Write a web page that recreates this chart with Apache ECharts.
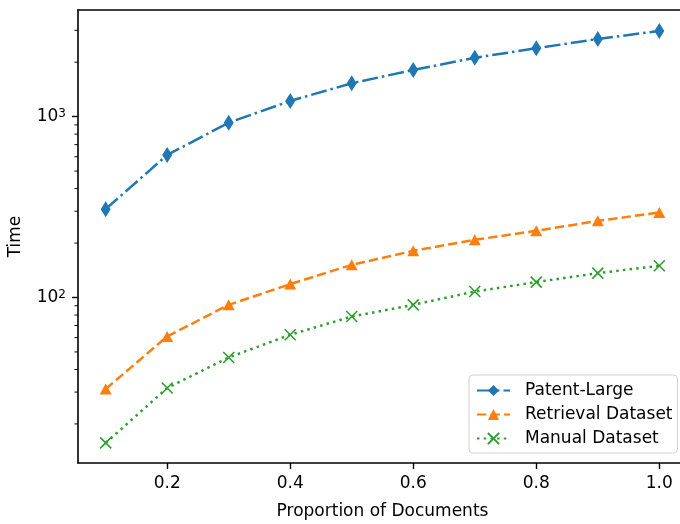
<!DOCTYPE html>
<html>
<head>
<meta charset="utf-8">
<script src="https://cdn.jsdelivr.net/npm/echarts@6/dist/echarts.min.js"></script>
<style>
  html, body { margin: 0; padding: 0; background: #fff; }
  #chart { width: 680px; height: 524px; }
</style>
</head>
<body>
<div id="chart"></div>
<script>
// data
var proportions = [0.1, 0.2, 0.3, 0.4, 0.5, 0.6, 0.7, 0.8, 0.9, 1.0];
var patentLarge = [308, 614, 926, 1221, 1529, 1811, 2115, 2387, 2688, 2976];
var retrieval = [31.2, 60.9, 91.1, 118.6, 151.6, 181.1, 208.4, 233.7, 265.3, 294.9];
var manual = [15.7, 31.6, 46.6, 62.2, 78.5, 91.1, 107.9, 121.6, 136.4, 149.7];

var xTicks = [0.2, 0.4, 0.6, 0.8, 1.0];
var yMajorTicks = [100, 1000];
var yMinorTicks = [20, 30, 40, 50, 60, 70, 80, 90, 200, 300, 400, 500, 600, 700, 800, 900, 2000, 3000];

var X_MIN = 0.055, X_MAX = 1.045;
var Y_MIN = 12.16, Y_MAX = 3886;
var FONT = 'DejaVu Sans';

function pairs(ys) {
	return proportions.map(function (x, i) { return [x, ys[i]]; });
}

var myChart = echarts.init(document.getElementById('chart'), null, { renderer: 'canvas' });

myChart.setOption({
	animation: false,
	textStyle: { fontFamily: FONT },
	grid: {
		left: 78, top: 10, width: 609, height: 453,
		outerBoundsMode: 'none',
		show: false
	},
	xAxis: [
		{
			type: 'value',
			min: X_MIN, max: X_MAX,
			name: 'Proportion of Documents',
			nameLocation: 'middle',
			nameGap: 40,
			nameTextStyle: { fontSize: 17, color: '#000', fontFamily: FONT },
			axisLine: { show: true, lineStyle: { color: '#000', width: 1.6 } },
			splitLine: { show: false },
			axisTick: { show: true, customValues: xTicks, length: 6, lineStyle: { color: '#000', width: 1.4 } },
			axisLabel: {
				customValues: xTicks, margin: 12, fontSize: 17, color: '#000', fontFamily: FONT,
				formatter: function (v) { return v.toFixed(1); }
			}
		},
		{
			// top spine
			type: 'value', position: 'top',
			min: X_MIN, max: X_MAX,
			axisLine: { show: true, lineStyle: { color: '#000', width: 1.6 } },
			axisTick: { show: false },
			axisLabel: { show: false },
			splitLine: { show: false }
		}
	],
	yAxis: {
		type: 'log', logBase: 10,
		min: Y_MIN, max: Y_MAX,
		name: 'Time',
		nameLocation: 'middle',
		nameRotate: 90,
		nameGap: 54,
		nameTextStyle: { fontSize: 17, color: '#000', fontFamily: FONT },
		axisLine: { show: true, lineStyle: { color: '#000', width: 1.6 } },
		splitLine: { show: false },
		axisTick: { show: true, customValues: yMajorTicks, length: 6, lineStyle: { color: '#000', width: 1.4 } },
		axisLabel: {
			customValues: yMajorTicks, margin: 12, color: '#000',
			formatter: function (v) {
				return '{b|10}{s|' + Math.round(Math.log10(v)) + '}';
			},
			rich: {
				b: { fontSize: 17, fontFamily: FONT, color: '#000', lineHeight: 17 },
				s: { fontSize: 12, fontFamily: FONT, color: '#000', verticalAlign: 'top', lineHeight: 12, padding: [0, 0, 2, 0] }
			}
		}
	},
	legend: {
		orient: 'vertical',
		left: 469, top: 375,
		itemWidth: 33, itemHeight: 14, itemGap: 7,
		padding: [7, 5, 6, 7],
		backgroundColor: 'rgba(255,255,255,0.8)',
		borderColor: '#d0d0d0', borderWidth: 1, borderRadius: 4,
		textStyle: { fontSize: 17, color: '#000', fontFamily: FONT, padding: [0, 0, 0, 10] },
		data: ['Patent-Large', 'Retrieval Dataset', 'Manual Dataset']
	},
	series: [
		{
			name: 'Patent-Large', type: 'line',
			data: pairs(patentLarge),
			symbol: 'diamond', symbolSize: [10, 16],
			itemStyle: { color: '#1f77b4' },
			lineStyle: { color: '#1f77b4', width: 2.5, type: [16, 4, 2.5, 4], cap: 'butt' }
		},
		{
			name: 'Retrieval Dataset', type: 'line',
			data: pairs(retrieval),
			symbol: 'triangle', symbolSize: [12, 11],
			itemStyle: { color: '#ff7f0e' },
			lineStyle: { color: '#ff7f0e', width: 2.5, type: [9.4, 4.1], cap: 'butt' }
		},
		{
			name: 'Manual Dataset', type: 'line',
			data: pairs(manual),
			symbol: 'path://M0,0L10,10M0,10L10,0', symbolSize: 11,
			itemStyle: { color: 'rgba(0,0,0,0)', borderColor: '#2ca02c', borderWidth: 1.6 },
			lineStyle: { color: '#2ca02c', width: 2.5, type: [2.5, 4.2], cap: 'butt' }
		},
		{
			// minor ticks of the log axis
			name: 'minorTicks', type: 'custom',
			silent: true, clip: false, z: 10,
			data: yMinorTicks.map(function (v) { return [X_MIN, v]; }),
			renderItem: function (params, api) {
				var p = api.coord([api.value(0), api.value(1)]);
				return {
					type: 'line',
					shape: { x1: p[0] - 3.5, y1: p[1], x2: p[0], y2: p[1] },
					style: { stroke: '#000', lineWidth: 1 }
				};
			}
		}
	]
});

window.onresize = function () {
	myChart.resize();
};
</script>
</body>
</html>
